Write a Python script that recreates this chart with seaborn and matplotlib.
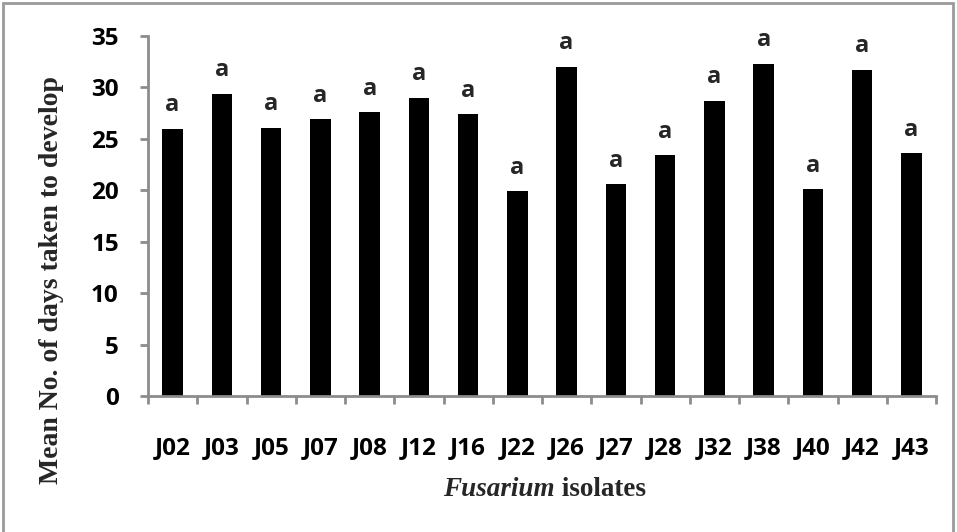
import matplotlib
matplotlib.use("Agg")
import matplotlib.pyplot as plt
import seaborn as sns
import pandas as pd
from matplotlib.patches import Rectangle

isolates = ["J02", "J03", "J05", "J07", "J08", "J12", "J16", "J22",
            "J26", "J27", "J28", "J32", "J38", "J40", "J42", "J43"]
mean_days = [26.0, 29.4, 26.1, 26.9, 27.6, 29.0, 27.4, 19.9,
             32.0, 20.6, 23.4, 28.7, 32.3, 20.1, 31.7, 23.6]
letters = ["a"] * len(isolates)
yticks = [0, 5, 10, 15, 20, 25, 30, 35]

df = pd.DataFrame({"isolate": isolates, "days": mean_days})

sns.set_style("white")
W, H = 957, 532
fig = plt.figure(figsize=(W / 100, H / 100), dpi=100)
ax = fig.add_axes([148 / W, (H - 396) / H, (936 - 148) / W, (396 - 36) / H])

sns.barplot(data=df, x="isolate", y="days", color="black", saturation=1,
            width=0.42, ax=ax, edgecolor="black", linewidth=0)

ax.set_xlim(-0.5, len(isolates) - 0.5)
ax.set_ylim(0, 35)
ax.set_yticks(yticks)
ax.set_yticklabels([str(v) for v in yticks], fontfamily="Open Sans",
                   fontweight="bold", fontsize=17.5)
ax.set_xticks(range(len(isolates)))
ax.set_xticklabels(isolates, fontfamily="Open Sans", fontweight="bold",
                   fontsize=17.5)
ax.set_xticks([i - 0.5 for i in range(len(isolates) + 1)], minor=True)

grey = "#8c8c8c"
for s in ["top", "right"]:
    ax.spines[s].set_visible(False)
for s in ["left", "bottom"]:
    ax.spines[s].set_color(grey)
    ax.spines[s].set_linewidth(2)
ax.tick_params(axis="x", which="major", length=0, pad=29, colors="black")
ax.tick_params(axis="x", which="minor", length=6, width=2, color=grey,
               direction="out", bottom=True)
ax.tick_params(axis="y", which="major", length=6, width=2, color=grey,
               direction="out", pad=15, left=True, labelcolor="black")
ax.set_xlabel("")
ax.set_ylabel("")

for i, (v, t) in enumerate(zip(mean_days, letters)):
    ax.annotate(t, xy=(i, v), xytext=(0, 17), textcoords="offset points",
                ha="center", va="center", fontfamily="Open Sans",
                fontweight="bold", fontsize=17)

fig.text(52 / W, 1 - 280 / H, "Mean No. of days taken to develop",
         rotation=90, ha="center", va="center",
         fontfamily="Liberation Serif", fontweight="bold", fontsize=20)

fig.text(555 / W, 1 - 490 / H, "Fusarium", ha="right", va="center",
         fontfamily="Liberation Serif", fontweight="bold",
         fontstyle="italic", fontsize=19.5)
fig.text(555 / W, 1 - 490 / H, " isolates", ha="left", va="center",
         fontfamily="Liberation Serif", fontweight="bold", fontsize=19.5)

fig.patches.append(Rectangle((3 / W, -5 / H), (953 - 3) / W, (529 + 5) / H,
                             transform=fig.transFigure, fill=False,
                             edgecolor="#9a9a9a", linewidth=2))

fig.savefig("out.png", dpi=100)
